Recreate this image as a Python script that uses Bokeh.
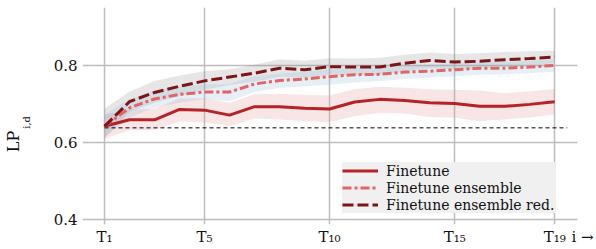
from bokeh.plotting import figure
from bokeh.models import (Range1d, FixedTicker, Legend, LegendItem, LinearAxis)
from bokeh.embed import file_html
from bokeh.resources import INLINE

# ---------------- data ----------------
steps = list(range(1, 20))
tick_steps = [1, 5, 10, 15, 19]
tick_labels = ["T₁", "T₅", "T₁₀", "T₁₅", "T₁₉"]
y_ticks = [0.4, 0.6, 0.8]
y_tick_labels = ["0.4", "0.6", "0.8"]

finetune = [0.642, 0.659, 0.659, 0.686, 0.684, 0.671, 0.693, 0.693, 0.689, 0.687,
            0.705, 0.712, 0.709, 0.703, 0.701, 0.694, 0.694, 0.699, 0.706]
finetune_lo = [0.610, 0.632, 0.633, 0.655, 0.652, 0.643, 0.662, 0.660, 0.655, 0.653,
               0.668, 0.677, 0.675, 0.666, 0.664, 0.655, 0.660, 0.665, 0.673]
finetune_hi = [0.672, 0.686, 0.687, 0.715, 0.714, 0.703, 0.725, 0.726, 0.724, 0.722,
               0.738, 0.745, 0.742, 0.738, 0.737, 0.735, 0.728, 0.733, 0.739]

ensemble = [0.642, 0.690, 0.713, 0.725, 0.731, 0.731, 0.752, 0.761, 0.765, 0.771,
            0.776, 0.777, 0.783, 0.785, 0.789, 0.793, 0.793, 0.796, 0.800]
ensemble_lo = [0.612, 0.665, 0.690, 0.703, 0.712, 0.707, 0.731, 0.742, 0.746, 0.750,
               0.756, 0.760, 0.765, 0.768, 0.772, 0.776, 0.777, 0.780, 0.784]
ensemble_hi = [0.672, 0.712, 0.735, 0.746, 0.750, 0.752, 0.772, 0.779, 0.783, 0.790,
               0.795, 0.795, 0.800, 0.802, 0.805, 0.809, 0.809, 0.812, 0.816]

ensemble_red = [0.642, 0.706, 0.730, 0.746, 0.760, 0.770, 0.780, 0.793, 0.789, 0.797,
                0.796, 0.796, 0.806, 0.813, 0.809, 0.811, 0.815, 0.818, 0.822]
red_lo = [0.612, 0.680, 0.703, 0.720, 0.737, 0.749, 0.758, 0.770, 0.768, 0.776,
          0.775, 0.775, 0.785, 0.793, 0.789, 0.791, 0.796, 0.800, 0.806]
red_hi = [0.688, 0.732, 0.760, 0.774, 0.785, 0.790, 0.802, 0.816, 0.812, 0.819,
          0.818, 0.820, 0.828, 0.834, 0.830, 0.832, 0.835, 0.837, 0.838]

baseline = 0.638
baseline_x = [1, 19.5]

series_names = ["Finetune", "Finetune ensemble", "Finetune ensemble red."]
x_axis_name = "i →"
x_axis_name_pos = 20.11
y_axis_name = "LP"
y_axis_sub = "i,d"

X_START, X_END, X_VIEW_END = 0.12, 19.92, 20.671
Y_START, Y_END = 0.387, 0.9506

FONT = "DejaVu Serif"
TXT = "#111111"
GRID = "#bdbdbd"
NB = "\u00a0"

# ---------------- figure ----------------
p = figure(width=596, height=249, output_backend="svg", toolbar_location=None,
           x_range=Range1d(X_START, X_VIEW_END), y_range=Range1d(Y_START, Y_END),
           min_border_left=81, min_border_right=0, min_border_top=7,
           min_border_bottom=25)
p.outline_line_color = None

# grid lines only across the plotting area proper
gx, gy = p.xgrid[0], p.ygrid[0]
if "cross_bounds" in gy.properties():
    gy.cross_bounds = (X_START, X_END)
else:
    p.quad(left=[X_END], right=[X_VIEW_END], bottom=[Y_START], top=[Y_END],
           fill_color="white", line_color=None)

# bands
p.varea(x=steps, y1=finetune_lo, y2=finetune_hi, fill_color="#e39797", fill_alpha=0.25)
p.varea(x=steps, y1=red_lo, y2=red_hi, fill_color="#808080", fill_alpha=0.2)
p.varea(x=steps, y1=ensemble_lo, y2=ensemble_hi, fill_color="#9bbbdb", fill_alpha=0.25)

# baseline
p.line(x=baseline_x, y=[baseline, baseline], line_color="black", line_width=1,
       line_dash="4 3")

r1 = p.line(steps, finetune, line_color="#b52227", line_width=3)
r2 = p.line(steps, ensemble, line_color="#e36464", line_width=3, line_dash="9 3 3 3")
r3 = p.line(steps, ensemble_red, line_color="#7c1418", line_width=3, line_dash="11 4")

# ---- x axis (tick labels + "i ->" name as an extra tick right of the plot)
xa = p.xaxis[0]
xa.ticker = FixedTicker(ticks=tick_steps + [x_axis_name_pos])
overrides = {t: l for t, l in zip(tick_steps, tick_labels)}
overrides[x_axis_name_pos] = x_axis_name
xa.major_label_overrides = overrides
xa.major_label_standoff = 3
xa.major_label_text_font_size = "15px"
gx.ticker = FixedTicker(ticks=tick_steps)

# ---- y axis (tick labels + subscript as axis label)
ya = p.yaxis[0]
ya.ticker = FixedTicker(ticks=y_ticks)
ya.major_label_overrides = {t: l for t, l in zip(y_ticks, y_tick_labels)}
ya.major_label_standoff = 5
ya.major_label_text_font_size = "15px"
ya.axis_label = y_axis_sub + NB * 4
ya.axis_label_text_font_size = "10px"
ya.axis_label_standoff = 19
gy.ticker = FixedTicker(ticks=y_ticks)

# outer left axis carrying "LP"
ya2 = LinearAxis(ticker=FixedTicker(ticks=[]),
                 axis_label=y_axis_name + NB * 10, axis_label_standoff=-5,
                 axis_label_text_font_size="16px")
p.add_layout(ya2, "left")

for ax in (xa, ya, ya2):
    ax.axis_line_color = None
    ax.minor_tick_line_color = None
    ax.major_tick_line_color = None
    ax.major_tick_in = 0
    ax.major_tick_out = 0
    ax.major_label_text_font = FONT
    ax.major_label_text_color = TXT
    ax.axis_label_text_font = FONT
    ax.axis_label_text_font_style = "normal"
    ax.axis_label_text_color = TXT

p.grid.grid_line_color = GRID
p.grid.grid_line_width = 1.5

# legend
legend = Legend(items=[LegendItem(label=series_names[0], renderers=[r1]),
                       LegendItem(label=series_names[1], renderers=[r2]),
                       LegendItem(label=series_names[2], renderers=[r3])],
                location=(260, 11))
legend.background_fill_color = "#f0f0f0"
legend.background_fill_alpha = 1.0
legend.border_line_color = None
legend.padding = 5
legend.spacing = 0
legend.margin = 0
legend.glyph_width = 36
legend.glyph_height = 17
legend.label_height = 17
legend.label_standoff = 8
legend.label_text_font = FONT
legend.label_text_font_size = "14px"
legend.label_text_color = TXT
p.add_layout(legend, "center")

open("out.html", "w").write(file_html(p, INLINE))
